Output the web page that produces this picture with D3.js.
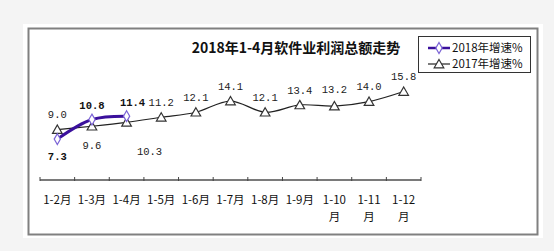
<!DOCTYPE html>
<html>
<head>
<meta charset="utf-8">
<script src="https://cdn.jsdelivr.net/npm/d3@7"></script>
<style>
  body { margin: 0; background: #f4f4f4; }
  svg { display: block; }
</style>
</head>
<body>
<div id="chart"></div>
<script>
// 2018年1-4月软件业利润总额走势 - line chart

const months = ["1-2月", "1-3月", "1-4月", "1-5月", "1-6月", "1-7月", "1-8月", "1-9月", "1-10月", "1-11月", "1-12月"];
const growth2018 = [7.3, 10.8, 11.4];
const growth2017 = [9.0, 9.6, 10.3, 11.2, 12.1, 14.1, 12.1, 13.4, 13.2, 14.0, 15.8];
const seriesNames = ["2018年增速%", "2017年增速%"];
const title = "2018年1-4月软件业利润总额走势";

const width = 554, height = 251;

const svg = d3.select("#chart")
    .append("svg")
    .attr("width", width)
    .attr("height", height);

// white panel + frame
svg.append("rect")
    .attr("x", 23).attr("y", 24)
    .attr("width", 520).attr("height", 214)
    .attr("fill", "#fff");
svg.append("rect")
    .attr("x", 28.5).attr("y", 28.5)
    .attr("width", 509).attr("height", 206)
    .attr("fill", "none")
    .attr("stroke", "#808080")
    .attr("stroke-width", 2);

const x = d3.scaleBand()
    .domain(months)
    .range([40, 421])
    .padding(0);

const y = d3.scaleLinear()
    .domain([0, 20])
    .range([180, 68]);

const cx = d => x(d) + x.bandwidth() / 2;

// title
svg.append("text")
    .attr("x", 296)
    .attr("y", 53)
    .attr("text-anchor", "middle")
    .style("font-family", "'Noto Sans CJK SC', sans-serif")
    .style("font-weight", "bold")
    .style("font-size", "14px")
    .attr("fill", "#111")
    .text(title);

// x axis: line + boundary ticks
const axisY = y(0);
svg.append("line")
    .attr("x1", x.range()[0]).attr("x2", x.range()[1])
    .attr("y1", axisY).attr("y2", axisY)
    .attr("stroke", "#7a7a7a")
    .attr("stroke-width", 2);

d3.range(months.length + 1).forEach(i => {
    const tx = x.range()[0] + i * x.step();
    svg.append("line")
        .attr("x1", tx).attr("x2", tx)
        .attr("y1", axisY - 3).attr("y2", axisY + 1)
        .attr("stroke", "#444")
        .attr("stroke-width", 1);
});

// category labels (long ones wrap "月" onto a second line)
months.forEach(m => {
    const t = svg.append("text")
        .attr("x", cx(m))
        .attr("y", 204)
        .attr("text-anchor", "middle")
        .style("font-family", "'Noto Sans CJK SC', sans-serif")
        .style("font-size", "11.5px")
        .attr("fill", "#111");
    if (m.length > 4) {
        t.append("tspan").attr("x", cx(m)).text(m.slice(0, -1));
        t.append("tspan").attr("x", cx(m)).attr("dy", 17).text(m.slice(-1));
    } else {
        t.text(m);
    }
});

const line = d3.line()
    .x((d, i) => cx(months[i]))
    .y(d => y(d))
    .curve(d3.curveCatmullRom.alpha(0.5));

// 2017 series
svg.append("path")
    .datum(growth2017)
    .attr("d", line)
    .attr("fill", "none")
    .attr("stroke", "#222")
    .attr("stroke-width", 1.2);

const tri = d3.symbol().type(d3.symbolTriangle).size(40);
svg.selectAll(".m2017")
    .data(growth2017)
    .enter()
    .append("path")
    .attr("transform", (d, i) => `translate(${cx(months[i])},${y(d) + 1})`)
    .attr("d", tri)
    .attr("fill", "#fff")
    .attr("stroke", "#333")
    .attr("stroke-width", 1.2);

// 2018 series
svg.append("path")
    .datum(growth2018)
    .attr("d", line)
    .attr("fill", "none")
    .attr("stroke", "#3a109c")
    .attr("stroke-width", 3);

const dia = d3.symbol().type(d3.symbolDiamond).size(34);
svg.selectAll(".m2018")
    .data(growth2018)
    .enter()
    .append("path")
    .attr("transform", (d, i) => `translate(${cx(months[i])},${y(d)})`)
    .attr("d", dia)
    .attr("fill", "#fff")
    .attr("stroke", "#7b63d6")
    .attr("stroke-width", 1.2);

// data labels: offsets relative to each point
const off2017 = [[0, -15], [0, 19], [23, 29], [0, -15], [0, -15], [0, -15], [0, -15], [0, -15], [0, -17], [0, -15], [0, -15]];
const off2018 = [[0, 17], [0, -14], [6, -14]];

const labelFont = "'Liberation Mono', monospace";

svg.selectAll(".l2017")
    .data(growth2017)
    .enter()
    .append("text")
    .attr("x", (d, i) => cx(months[i]) + off2017[i][0])
    .attr("y", (d, i) => y(d) + off2017[i][1])
    .attr("dy", "0.35em")
    .attr("text-anchor", "middle")
    .style("font-family", labelFont)
    .style("font-size", "10.5px")
    .attr("fill", "#222")
    .text(d => d.toFixed(1));

svg.selectAll(".l2018")
    .data(growth2018)
    .enter()
    .append("text")
    .attr("x", (d, i) => cx(months[i]) + off2018[i][0])
    .attr("y", (d, i) => y(d) + off2018[i][1])
    .attr("dy", "0.35em")
    .attr("text-anchor", "middle")
    .style("font-family", labelFont)
    .style("font-size", "10.5px")
    .style("font-weight", "bold")
    .attr("fill", "#111")
    .text(d => d.toFixed(1));

// legend
const legend = svg.append("g").attr("transform", "translate(418,36)");
legend.append("rect")
    .attr("x", 0.5).attr("y", 0.5)
    .attr("width", 112).attr("height", 36)
    .attr("fill", "#fff")
    .attr("stroke", "#333")
    .attr("stroke-width", 1);

const legendItems = [
    { name: seriesNames[0], color: "#3a109c", width: 2.5, mark: dia, mstroke: "#7b63d6" },
    { name: seriesNames[1], color: "#222", width: 1.2, mark: tri, mstroke: "#333" }
];

legendItems.forEach((d, i) => {
    const ly = 12 + i * 16;
    legend.append("line")
        .attr("x1", 10).attr("x2", 32)
        .attr("y1", ly).attr("y2", ly)
        .attr("stroke", d.color)
        .attr("stroke-width", d.width);
    legend.append("path")
        .attr("transform", `translate(21,${ly + (i ? 1 : 0)})`)
        .attr("d", d.mark)
        .attr("fill", "#fff")
        .attr("stroke", d.mstroke)
        .attr("stroke-width", 1.2);
    legend.append("text")
        .attr("x", 34)
        .attr("y", ly)
        .attr("dy", "0.35em")
        .style("font-family", "'Noto Sans CJK SC', sans-serif")
        .style("font-size", "11.5px")
        .attr("fill", "#111")
        .text(d.name);
});
</script>
</body>
</html>
